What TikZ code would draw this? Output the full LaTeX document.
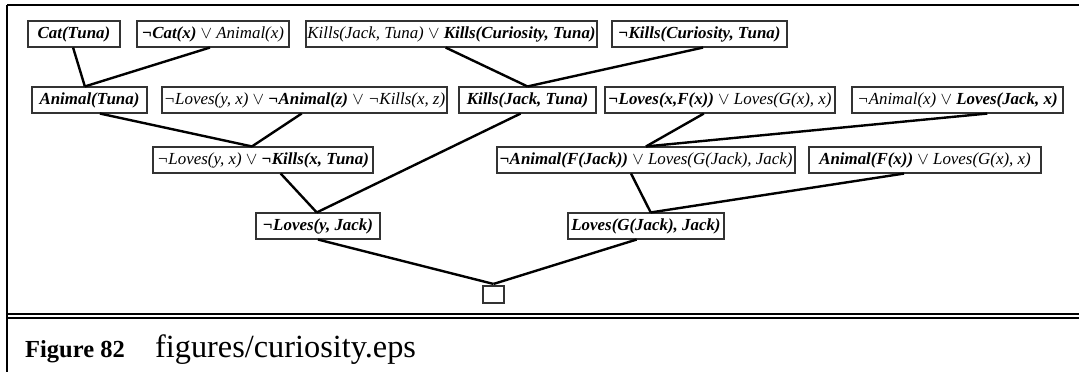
\documentclass[tikz,border=0pt]{standalone}
\usepackage{fontspec}
\setmainfont{Liberation Serif}
\usetikzlibrary{calc}
\newcommand\bi[1]{\textbf{\textit{#1}}}
\newcommand\ti[1]{\textit{#1}}
\tikzset{
  clause/.style={draw=black!80, line width=1.1pt, inner sep=0pt, minimum height=26pt,
    font=\fontsize{16.9}{18}\selectfont, anchor=center},
  conn/.style={draw=black, line width=2.4pt},
  frameline/.style={draw=black, line width=2.3pt},
}
\begin{document}
\begin{tikzpicture}[x=1pt,y=-1pt]
\useasboundingbox (0,0) rectangle (1079,372);
% frame
\draw[frameline] (7,5) -- (1079,5);
\draw[frameline] (7,5) -- (7,372);
\draw[line width=2pt] (7,314) -- (1079,314);
\draw[line width=2pt] (7,318) -- (1079,318);
% row 1
\node[clause, minimum width=92pt] (cat) at (74,34) {\bi{Cat(Tuna)}};
\node[clause, minimum width=152pt] (ncat) at (213,34) {\bi{¬Cat(x)} $\vee$ \ti{Animal(x)}};
\node[clause, minimum width=291pt] (kk) at (451.5,34) {\ti{Kills(Jack, Tuna)} $\vee$ \bi{Kills(Curiosity, Tuna)}};
\node[clause, minimum width=175pt] (nkc) at (699.5,34) {\bi{¬Kills(Curiosity, Tuna)}};
% row 2
\node[clause, minimum width=115pt] (ani) at (89.5,100) {\bi{Animal(Tuna)}};
\node[clause, minimum width=285pt] (nlna) at (304.5,100) {\ti{¬Loves(y, x)} $\vee$ \bi{¬Animal(z)} $\vee$ \ti{¬Kills(x, z)}};
\node[clause, minimum width=137pt] (kjt) at (527.5,100) {\bi{Kills(Jack, Tuna)}};
\node[clause, minimum width=230pt] (nlf) at (720,100) {\bi{¬Loves(x,F(x))} $\vee$ \ti{Loves(G(x), x)}};
\node[clause, minimum width=211pt] (nal) at (957.5,100) {\ti{¬Animal(x)} $\vee$ \bi{Loves(Jack, x)}};
% row 3
\node[clause, minimum width=220pt] (nlk) at (263,160) {\ti{¬Loves(y, x)} $\vee$ \bi{¬Kills(x, Tuna)}};
\node[clause, minimum width=298pt] (naf) at (646,160) {\bi{¬Animal(F(Jack))} $\vee$ \ti{Loves(G(Jack), Jack)}};
\node[clause, minimum width=232pt] (afx) at (925,160) {\bi{Animal(F(x))} $\vee$ \ti{Loves(G(x), x)}};
% row 4
\node[clause, minimum width=124pt] (nly) at (318,226) {\bi{¬Loves(y, Jack)}};
\node[clause, minimum width=156pt] (lgj) at (646,226) {\bi{Loves(G(Jack), Jack)}};
% empty clause
\node[clause, minimum width=21pt, minimum height=17pt] (empty) at (493.5,294.5) {};
% connectors
\draw[conn] ($(cat.south west)!0.49!(cat.south east)$) -- ($(ani.north west)!0.46!(ani.north east)$);
\draw[conn] ($(ncat.south west)!0.48!(ncat.south east)$) -- ($(ani.north west)!0.46!(ani.north east)$);
\draw[conn] ($(kk.south west)!0.48!(kk.south east)$) -- ($(kjt.north west)!0.50!(kjt.north east)$);
\draw[conn] ($(nkc.south west)!0.52!(nkc.south east)$) -- ($(kjt.north west)!0.50!(kjt.north east)$);
\draw[conn] ($(ani.south west)!0.59!(ani.south east)$) -- ($(nlk.north west)!0.45!(nlk.north east)$);
\draw[conn] ($(nlna.south west)!0.49!(nlna.south east)$) -- ($(nlk.north west)!0.45!(nlk.north east)$);
\draw[conn] ($(kjt.south west)!0.45!(kjt.south east)$) -- ($(nly.north west)!0.49!(nly.north east)$);
\draw[conn] ($(nlf.south west)!0.43!(nlf.south east)$) -- ($(naf.north west)!0.50!(naf.north east)$);
\draw[conn] ($(nal.south west)!0.64!(nal.south east)$) -- ($(naf.north west)!0.50!(naf.north east)$);
\draw[conn] ($(nlk.south west)!0.58!(nlk.south east)$) -- ($(nly.north west)!0.49!(nly.north east)$);
\draw[conn] ($(naf.south west)!0.45!(naf.south east)$) -- ($(lgj.north west)!0.53!(lgj.north east)$);
\draw[conn] ($(afx.south west)!0.41!(afx.south east)$) -- ($(lgj.north west)!0.53!(lgj.north east)$);
\draw[conn] ($(nly.south west)!0.50!(nly.south east)$) -- ($(empty.north)+(0,-1.5)$);
\draw[conn] ($(lgj.south west)!0.44!(lgj.south east)$) -- ($(empty.north)+(0,-1.5)$);
% caption
\node[anchor=base west, inner sep=0pt, font=\bfseries\fontsize{24.5}{26}\selectfont] (figlabel) at (25,357) {Figure 82};
\node[anchor=base west, inner sep=0pt, font=\fontsize{32.3}{34}\selectfont] (figfile) at (155,357) {figures/curiosity.eps};
\end{tikzpicture}
\end{document}
